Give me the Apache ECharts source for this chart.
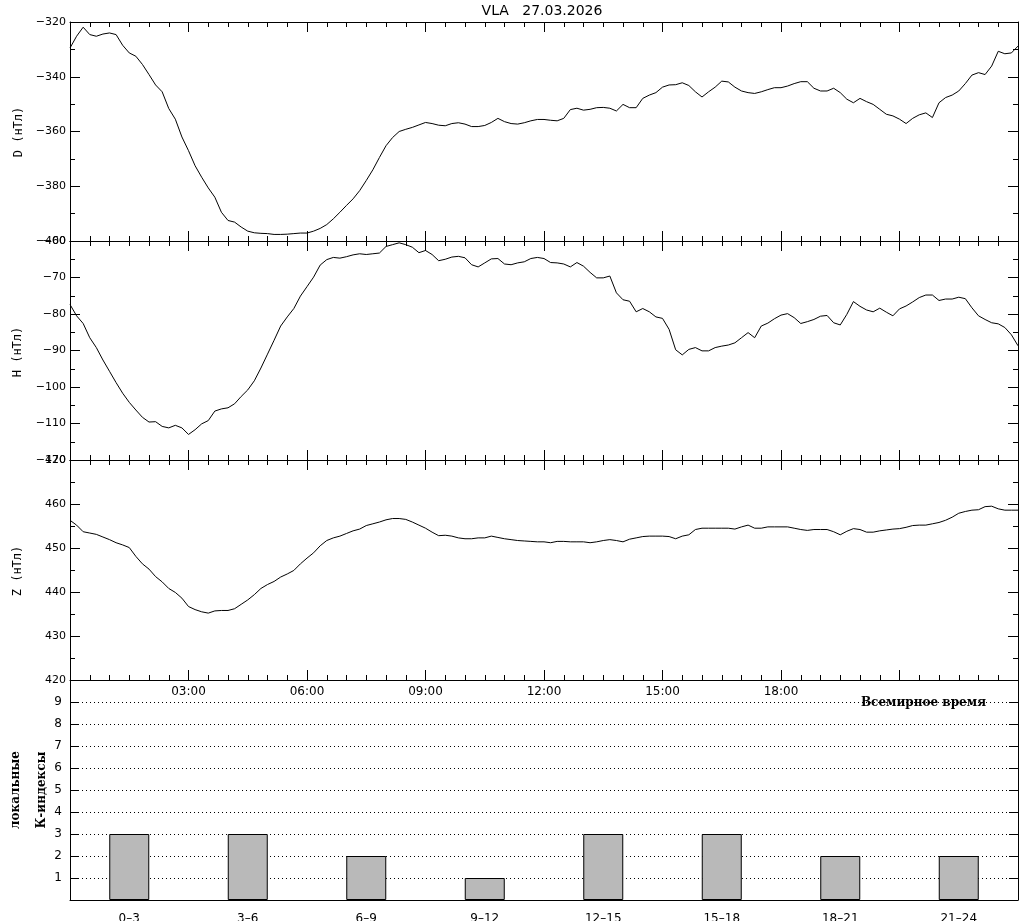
<!DOCTYPE html>
<html>
<head>
<meta charset="utf-8">
<script src="https://cdn.jsdelivr.net/npm/echarts@6/dist/echarts.min.js"></script>
<style>
html,body{margin:0;padding:0;background:#fff;}
#chart{width:1024px;height:921px;}
</style>
</head>
<body>
<div id="chart"></div>
<script>
// sampling step of the magnetometer series, minutes
const stepMinutes = 10;

// D component, nT (every 10 min from 00:00 to 24:00)
const dValues = [
-329.5,-325.2,-321.9,-324.6,-325.2,-324.4,-324.0,-324.6,-328.5,-331.3,
-332.5,-335.5,-339.2,-343.0,-345.5,-351.6,-355.5,-362.0,-367.0,-372.5,
-376.7,-380.6,-384.0,-389.5,-392.5,-393.1,-394.9,-396.4,-397.0,-397.2,
-397.3,-397.6,-397.6,-397.5,-397.3,-397.1,-397.1,-396.4,-395.4,-394.0,
-391.9,-389.5,-387.0,-384.6,-381.6,-377.9,-374.0,-369.5,-365.2,-362.2,
-360.0,-359.2,-358.5,-357.6,-356.7,-357.1,-357.7,-357.9,-357.1,-356.8,
-357.3,-358.2,-358.2,-357.8,-356.7,-355.2,-356.4,-357.1,-357.3,-356.8,
-356.1,-355.6,-355.6,-355.9,-356.1,-355.2,-352.0,-351.5,-352.2,-351.9,
-351.3,-351.2,-351.5,-352.5,-350.1,-351.3,-351.3,-347.9,-346.7,-345.8,
-343.8,-343.0,-342.9,-342.2,-343.2,-345.5,-347.4,-345.5,-343.8,-341.6,
-341.9,-343.8,-345.2,-345.8,-346.1,-345.5,-344.7,-344.0,-344.0,-343.4,
-342.5,-341.8,-341.8,-344.2,-345.2,-345.2,-344.2,-345.8,-348.2,-349.5,
-347.9,-349.1,-350.1,-351.9,-353.7,-354.3,-355.5,-357.1,-355.2,-353.9,
-353.2,-354.9,-349.5,-347.6,-346.7,-345.2,-342.5,-339.4,-338.5,-339.2,
-336.1,-330.7,-331.6,-331.3,-328.8
];

// H component, nT
const hValues = [
-77.4,-80.5,-82.6,-86.5,-89.2,-92.6,-95.7,-98.8,-101.7,-104.2,
-106.3,-108.3,-109.6,-109.5,-110.8,-111.2,-110.5,-111.2,-113.0,-111.7,
-110.1,-109.2,-106.6,-106.0,-105.7,-104.6,-102.6,-100.8,-98.3,-94.8,
-91.0,-87.2,-83.3,-80.8,-78.5,-75.1,-72.5,-69.9,-66.6,-65.1,
-64.5,-64.7,-64.3,-63.8,-63.5,-63.7,-63.5,-63.3,-61.5,-61.0,
-60.5,-61.0,-61.7,-63.2,-62.6,-63.7,-65.4,-65.0,-64.4,-64.2,
-64.6,-66.5,-67.1,-66.0,-64.9,-64.8,-66.3,-66.5,-66.0,-65.7,
-64.8,-64.5,-64.8,-65.9,-66.0,-66.3,-67.1,-65.9,-66.9,-68.6,
-70.1,-70.1,-69.6,-74.2,-76.1,-76.5,-79.4,-78.5,-79.4,-80.8,
-81.2,-84.2,-89.8,-91.2,-89.7,-89.2,-90.1,-90.1,-89.2,-88.8,
-88.5,-87.9,-86.5,-85.1,-86.5,-83.3,-82.5,-81.3,-80.3,-79.9,
-81.0,-82.6,-82.1,-81.5,-80.6,-80.4,-82.4,-83.0,-80.1,-76.6,
-77.9,-78.9,-79.4,-78.4,-79.5,-80.5,-78.6,-77.8,-76.7,-75.5,
-74.8,-74.8,-76.3,-75.9,-75.9,-75.4,-75.8,-78.3,-80.5,-81.5,
-82.4,-82.7,-83.7,-85.7,-88.7
];

// Z component, nT
const zValues = [
456.3,455.2,453.7,453.4,453.1,452.5,451.9,451.2,450.7,450.1,
448.1,446.4,445.2,443.5,442.3,440.8,439.9,438.6,436.7,436.0,
435.5,435.2,435.7,435.8,435.8,436.2,437.2,438.2,439.4,440.8,
441.7,442.4,443.4,444.1,444.9,446.4,447.7,448.9,450.5,451.7,
452.3,452.7,453.3,453.9,454.3,455.1,455.5,455.9,456.4,456.7,
456.7,456.5,455.9,455.2,454.5,453.6,452.8,452.9,452.7,452.3,
452.1,452.1,452.3,452.3,452.7,452.4,452.1,451.9,451.7,451.6,
451.5,451.4,451.4,451.2,451.5,451.5,451.4,451.4,451.4,451.2,
451.4,451.7,451.9,451.7,451.4,452.0,452.3,452.6,452.7,452.7,
452.7,452.6,452.1,452.7,453.0,454.2,454.5,454.5,454.5,454.5,
454.5,454.3,454.8,455.2,454.5,454.5,454.8,454.8,454.8,454.8,
454.5,454.2,454.0,454.2,454.2,454.2,453.7,453.0,453.8,454.4,
454.2,453.6,453.6,453.9,454.1,454.3,454.4,454.7,455.1,455.2,
455.2,455.5,455.8,456.3,457.0,457.9,458.3,458.6,458.7,459.4,
459.5,458.9,458.6,458.6,458.6
];

// local K-indices
const kCategories = ['0–3','3–6','6–9','9–12','12–15','15–18','18–21','21–24'];
const kValues = [3,3,2,1,3,3,2,2];

// labelled time ticks (hours)
const timeLabelHours = [3,6,9,12,15,18];

const titleText = 'VLA   27.03.2026';
const panelNames = ['D (нТл)','H (нТл)','Z (нТл)'];

function toPairs(vals){
  return vals.map((v,i)=>[i*stepMinutes/60, v]);
}

const FONT = '"DejaVu Sans", sans-serif';
const black = '#000';

function timeAxis(gi, pos, showLabels){
  return {
    type:'value', gridIndex:gi, position:pos, min:0, max:24, interval:3,
    axisLine:{show:true, onZero:false, lineStyle:{color:black,width:1}},
    axisTick:{show:true, inside:true, length:10, lineStyle:{color:black}},
    minorTick:{show:true, splitNumber:6, length:5, lineStyle:{color:black}},
    splitLine:{show:false},
    axisLabel:{
      show:showLabels, margin:6, color:black, fontSize:12, fontFamily:FONT,
      formatter:function(v){
        if(timeLabelHours.indexOf(v) < 0) return '';
        return (v<10?'0':'')+v+':00';
      }
    }
  };
}

function valAxis(gi, pos, min, max, interval, showLabels){
  return {
    type:'value', gridIndex:gi, position:pos, min:min, max:max, interval:interval,
    axisLine:{show:true, onZero:false, lineStyle:{color:black,width:1}},
    axisTick:{show:true, inside:true, length:10, lineStyle:{color:black}},
    minorTick:{show:true, splitNumber:2, length:5, lineStyle:{color:black}},
    splitLine:{show:false},
    axisLabel:{
      show:showLabels, margin:4, color:black, fontSize:11, fontFamily:FONT,
      showMinLabel:true, showMaxLabel:true,
      formatter:function(v){ return String(v).replace('-', '\u2212'); }
    }
  };
}

function kAxis(pos, showLabels){
  return {
    type:'value', gridIndex:3, position:pos, min:0, max:10, interval:1,
    axisLine:{show:true, onZero:false, lineStyle:{color:black,width:1}},
    axisTick:{show:true, inside:true, length:9, lineStyle:{color:black}},
    splitLine:{show:showLabels, lineStyle:{color:black, width:1, type:[1,3]}},
    axisLabel:{
      show:showLabels, margin:8, color:black, fontSize:12, fontFamily:FONT,
      formatter:function(v){ return (v>=1 && v<=9) ? String(v) : ''; }
    }
  };
}

const chart = echarts.init(document.getElementById('chart'), null, {renderer:'canvas'});

const gridBase = {left:70, width:948, outerBoundsMode:'none', containLabel:false};

const option = {
  animation:false,
  backgroundColor:'#fff',
  grid:[
    Object.assign({}, gridBase, {top:22, height:219}),
    Object.assign({}, gridBase, {top:241, height:219}),
    Object.assign({}, gridBase, {top:460, height:220}),
    Object.assign({}, gridBase, {top:680, height:220})
  ],
  xAxis:[
    timeAxis(0,'bottom',false), timeAxis(0,'top',false),
    timeAxis(1,'bottom',false), timeAxis(1,'top',false),
    timeAxis(2,'bottom',true),  timeAxis(2,'top',false),
    {
      type:'category', gridIndex:3, position:'bottom', data:kCategories,
      axisLine:{show:true, lineStyle:{color:black,width:1}},
      axisTick:{show:false},
      axisLabel:{color:black, fontSize:12, fontFamily:FONT, margin:13}
    }
  ],
  yAxis:[
    valAxis(0,'left',-400,-320,20,true), valAxis(0,'right',-400,-320,20,false),
    valAxis(1,'left',-120,-60,10,true),  valAxis(1,'right',-120,-60,10,false),
    valAxis(2,'left',420,470,10,true),   valAxis(2,'right',420,470,10,false),
    kAxis('left',true), kAxis('right',false)
  ],
  series:[
    {type:'line', xAxisIndex:0, yAxisIndex:0, data:toPairs(dValues), showSymbol:false, symbol:'none',
     lineStyle:{color:black,width:1}},
    {type:'line', xAxisIndex:2, yAxisIndex:2, data:toPairs(hValues), showSymbol:false, symbol:'none',
     lineStyle:{color:black,width:1}},
    {type:'line', xAxisIndex:4, yAxisIndex:4, data:toPairs(zValues), showSymbol:false, symbol:'none',
     lineStyle:{color:black,width:1}},
    {type:'bar', xAxisIndex:6, yAxisIndex:6, data:kValues, barWidth:40,
     itemStyle:{color:'#b9b9b9', borderColor:black, borderWidth:1}}
  ],
  graphic:[
    {type:'text', x:542, y:11, style:{text:titleText, align:'center', verticalAlign:'middle',
      font:'14px "DejaVu Sans", sans-serif', fill:black}},
    {type:'text', x:19, y:132, rotation:Math.PI/2, style:{text:panelNames[0], align:'center', verticalAlign:'middle',
      font:'12px "DejaVu Sans Mono", monospace', fill:black}},
    {type:'text', x:18, y:352, rotation:Math.PI/2, style:{text:panelNames[1], align:'center', verticalAlign:'middle',
      font:'12px "DejaVu Sans Mono", monospace', fill:black}},
    {type:'text', x:18, y:571, rotation:Math.PI/2, style:{text:panelNames[2], align:'center', verticalAlign:'middle',
      font:'12px "DejaVu Sans Mono", monospace', fill:black}},
    {type:'text', x:16, y:790, rotation:Math.PI/2, style:{text:'локальные', align:'center', verticalAlign:'middle',
      font:'bold 12px "DejaVu Serif", serif', fill:black}},
    {type:'text', x:42, y:790, rotation:Math.PI/2, style:{text:'К-индексы', align:'center', verticalAlign:'middle',
      font:'bold 12px "DejaVu Serif", serif', fill:black}},
    {type:'text', x:986, y:703, style:{text:'Всемирное время', align:'right', verticalAlign:'middle',
      font:'bold 12px "DejaVu Serif", serif', fill:black}}
  ]
};

chart.setOption(option);
</script>
</body>
</html>
